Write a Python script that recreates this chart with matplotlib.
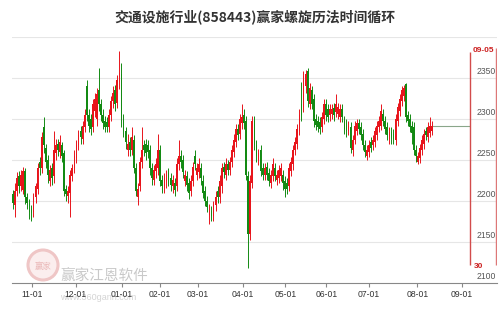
import matplotlib.pyplot as plt
from matplotlib.patches import Circle
import numpy as np

plt.rcParams['font.family'] = ['Liberation Sans', 'Noto Sans CJK SC', 'DejaVu Sans']

title = "交通设施行业(858443)赢家螺旋历法时间循环"

# daily candles, one per trading day
opens = [
    2208, 2195, 2212, 2230, 2218, 2214, 2236, 2205, 2198, 2190,
    2186, 2205, 2215, 2248, 2240, 2290, 2265, 2250, 2225, 2240,
    2230, 2258, 2270, 2260, 2268, 2258, 2215, 2206, 2210, 2230,
    2240, 2252, 2268, 2285, 2276, 2290, 2340, 2305, 2300, 2290,
    2310, 2300, 2335, 2318, 2305, 2298, 2296, 2290, 2305, 2322,
    2335, 2320, 2345, 2355, 2300, 2285, 2262, 2272, 2262, 2275,
    2240, 2205, 2218, 2248, 2268, 2270, 2268, 2262, 2240, 2226,
    2236, 2240, 2262, 2226, 2218, 2224, 2234, 2228, 2218, 2222,
    2218, 2245, 2255, 2250, 2225, 2230, 2222, 2212, 2225, 2255,
    2232, 2235, 2240, 2225, 2212, 2200, 2183, 2188, 2182, 2195,
    2212, 2205, 2218, 2242, 2232, 2245, 2238, 2248, 2260, 2272,
    2288, 2282, 2295, 2305, 2298, 2230, 2160, 2222, 2298, 2268,
    2250, 2262, 2240, 2232, 2242, 2234, 2222, 2230, 2240, 2226,
    2228, 2230, 2232, 2225, 2222, 2218, 2236, 2245, 2262, 2270,
    2285, 2318, 2315, 2340, 2358, 2318, 2335, 2325, 2300, 2298,
    2296, 2290, 2300, 2318, 2312, 2305, 2306, 2314, 2308, 2306,
    2302, 2312, 2298, 2295, 2285, 2290, 2262, 2275, 2285, 2295,
    2290, 2282, 2268, 2255, 2260, 2272, 2268, 2272, 2280, 2290,
    2292, 2306, 2298, 2290, 2276, 2284, 2282, 2275, 2298, 2310,
    2322, 2328, 2343, 2305, 2300, 2292, 2290, 2262, 2248, 2252,
    2262, 2270, 2285, 2278, 2283, 2285,
]
closes = [
    2198, 2212, 2228, 2218, 2232, 2236, 2205, 2198, 2186, 2185,
    2205, 2218, 2240, 2240, 2278, 2268, 2248, 2232, 2238, 2228,
    2262, 2268, 2262, 2272, 2255, 2212, 2208, 2212, 2232, 2240,
    2255, 2268, 2280, 2278, 2292, 2305, 2305, 2292, 2288, 2318,
    2325, 2330, 2318, 2305, 2295, 2290, 2290, 2305, 2322, 2332,
    2318, 2348, 2356, 2298, 2285, 2272, 2270, 2262, 2278, 2240,
    2212, 2215, 2248, 2262, 2262, 2258, 2260, 2240, 2228, 2238,
    2245, 2262, 2225, 2218, 2228, 2232, 2226, 2220, 2226, 2214,
    2245, 2255, 2248, 2235, 2232, 2220, 2210, 2225, 2242, 2245,
    2240, 2245, 2228, 2210, 2200, 2193, 2190, 2182, 2195, 2205,
    2205, 2225, 2240, 2235, 2245, 2238, 2248, 2262, 2275, 2288,
    2280, 2300, 2302, 2295, 2232, 2160, 2225, 2298, 2268, 2255,
    2258, 2236, 2232, 2240, 2232, 2224, 2232, 2245, 2230, 2232,
    2238, 2240, 2222, 2215, 2215, 2240, 2248, 2262, 2272, 2288,
    2305, 2305, 2352, 2355, 2322, 2338, 2318, 2298, 2293, 2290,
    2288, 2302, 2318, 2305, 2302, 2312, 2312, 2305, 2318, 2315,
    2312, 2302, 2288, 2285, 2292, 2265, 2275, 2292, 2295, 2288,
    2280, 2268, 2260, 2262, 2268, 2265, 2275, 2285, 2292, 2298,
    2310, 2298, 2288, 2280, 2284, 2276, 2276, 2300, 2315, 2325,
    2335, 2338, 2303, 2298, 2290, 2283, 2262, 2255, 2255, 2265,
    2275, 2282, 2280, 2290, 2292, 2292,
]
highs = [
    2214, 2222, 2235, 2236, 2238, 2242, 2240, 2210, 2202, 2195,
    2210, 2222, 2246, 2254, 2284, 2302, 2270, 2256, 2244, 2246,
    2285, 2276, 2276, 2280, 2272, 2262, 2220, 2218, 2238, 2245,
    2262, 2274, 2286, 2292, 2298, 2312, 2348, 2312, 2306, 2325,
    2332, 2338, 2362, 2324, 2312, 2304, 2302, 2312, 2328, 2340,
    2342, 2354, 2383, 2368, 2306, 2290, 2282, 2278, 2290, 2280,
    2246, 2222, 2254, 2290, 2274, 2276, 2274, 2268, 2246, 2244,
    2252, 2282, 2268, 2232, 2234, 2238, 2240, 2234, 2232, 2228,
    2252, 2275, 2262, 2256, 2238, 2236, 2228, 2232, 2248, 2262,
    2246, 2252, 2246, 2232, 2218, 2206, 2196, 2194, 2200, 2212,
    2218, 2232, 2246, 2248, 2252, 2250, 2254, 2268, 2282, 2294,
    2294, 2306, 2318, 2312, 2304, 2236, 2232, 2304, 2304, 2274,
    2264, 2268, 2246, 2246, 2248, 2240, 2238, 2252, 2246, 2238,
    2244, 2246, 2238, 2230, 2228, 2246, 2254, 2268, 2278, 2294,
    2312, 2345, 2358, 2360, 2362, 2344, 2340, 2330, 2306, 2304,
    2302, 2308, 2324, 2324, 2318, 2318, 2318, 2320, 2330, 2320,
    2318, 2318, 2304, 2300, 2298, 2296, 2280, 2298, 2300, 2300,
    2296, 2288, 2274, 2268, 2274, 2278, 2280, 2290, 2298, 2304,
    2318, 2312, 2304, 2296, 2290, 2290, 2288, 2306, 2320, 2330,
    2340, 2342, 2344, 2310, 2306, 2298, 2296, 2268, 2260, 2270,
    2280, 2288, 2290, 2296, 2302, 2298,
]
lows = [
    2190, 2180, 2206, 2210, 2212, 2208, 2196, 2190, 2178, 2176,
    2180, 2198, 2208, 2232, 2234, 2258, 2240, 2222, 2218, 2220,
    2222, 2250, 2255, 2252, 2248, 2206, 2200, 2198, 2180, 2224,
    2234, 2246, 2262, 2270, 2270, 2284, 2298, 2284, 2280, 2284,
    2302, 2292, 2310, 2298, 2288, 2284, 2284, 2284, 2298, 2314,
    2310, 2314, 2336, 2290, 2278, 2264, 2255, 2255, 2256, 2234,
    2206, 2195, 2212, 2240, 2255, 2250, 2252, 2232, 2220, 2220,
    2228, 2232, 2218, 2210, 2210, 2216, 2218, 2212, 2210, 2206,
    2212, 2238, 2240, 2228, 2218, 2212, 2202, 2206, 2218, 2238,
    2226, 2228, 2220, 2204, 2194, 2186, 2172, 2176, 2176, 2188,
    2198, 2198, 2210, 2228, 2226, 2232, 2232, 2242, 2254, 2266,
    2274, 2276, 2288, 2288, 2226, 2118, 2152, 2216, 2262, 2248,
    2244, 2230, 2226, 2226, 2226, 2218, 2216, 2224, 2224, 2220,
    2222, 2224, 2214, 2205, 2208, 2212, 2230, 2238, 2256, 2264,
    2280, 2298, 2308, 2332, 2315, 2312, 2312, 2290, 2286, 2284,
    2282, 2284, 2294, 2298, 2296, 2298, 2300, 2298, 2302, 2300,
    2296, 2296, 2282, 2278, 2280, 2258, 2255, 2270, 2280, 2282,
    2274, 2262, 2254, 2250, 2254, 2260, 2262, 2266, 2274, 2284,
    2286, 2292, 2282, 2274, 2270, 2270, 2270, 2268, 2292, 2304,
    2316, 2322, 2296, 2292, 2284, 2270, 2256, 2248, 2245, 2246,
    2256, 2264, 2274, 2272, 2278, 2280,
]

month_labels = ["11-01", "12-01", "01-01", "02-01", "03-01", "04-01",
                "05-01", "06-01", "07-01", "08-01", "09-01"]
month_pos = [9.3, 30.7, 53.2, 71.7, 90.2, 112.2, 133.2, 153.2, 174.1, 197.6, 219.5]
price_ticks = [2100, 2150, 2200, 2250, 2300, 2350]

cycle_pos = 223.4
cycle_label = "09-05"
cycle_days = "30"

UP = '#e8141b'
DOWN = '#138a13'
CYC = '#d24b4b'

o = np.array(opens)
c = np.array(closes)
h = np.array(highs)
l = np.array(lows)
x = np.arange(len(o))
col = np.where(c >= o, UP, DOWN)

fig = plt.figure(figsize=(4.99, 3.09), dpi=100)
ax = fig.add_axes([12 / 499, 26 / 309, 485 / 499, 246 / 309])
ax.set_facecolor('none')

# watermark, drawn under the axes
wm = Circle((43, 309 - 265), 15, transform=None, fill=True, facecolor='#fbeeee',
            edgecolor='#efc6c6', lw=2.2, zorder=-5)
fig.patches.append(wm)
fig.text(43 / 499, 1 - 266 / 309, "赢家", ha='center', va='center', fontsize=6,
         color='#eab8b8', family=['Noto Sans CJK SC'], zorder=-4)
fig.text(60 / 499, 1 - 277 / 309, "赢家江恩软件", ha='left', va='center', fontsize=10.5,
         color='#c9c9c9', family=['Noto Sans CJK SC'], zorder=-4)
fig.text(60 / 499, 1 - 297 / 309, "www.360gann.com", ha='left', va='center', fontsize=6.5,
         color='#d4d4d4', zorder=-4)

for v in [2150, 2200, 2250, 2300, 2350, 2400]:
    ax.axhline(v, color='#e6e6e6', lw=0.8, zorder=0)

ax.vlines(x, l, h, colors=col, lw=0.7, zorder=2)
body = np.maximum(np.abs(c - o), 1.0)
ax.bar(x, body, bottom=np.minimum(o, c), width=0.85, color=col, lw=0, zorder=3)

# last price guide line
ax.hlines(c[-1], x[-1], cycle_pos, colors='#8aa68a', lw=0.8, zorder=2)

# time cycle line
ax.vlines(cycle_pos, 2122, 2382, colors=CYC, lw=1.0, zorder=4)
ax.vlines(236.1, 2122, 2386, colors='#dd7777', lw=1.0, zorder=4)
ax.text(cycle_pos + 1.5, 2384, cycle_label, color='#cc2020', fontsize=6,
        fontweight='bold', ha='left', va='center')
ax.text(cycle_pos + 2.0, 2120, cycle_days, color='#cc2020', fontsize=6,
        fontweight='bold', ha='left', va='center')

for v in price_ticks:
    ax.text(0.9985, v + 2, str(v), transform=ax.get_yaxis_transform(),
            ha='right', va='bottom', fontsize=6.2, color='#555555')

ax.set_xlim(-0.5, 236.6)
ax.set_ylim(2100, 2400)
for s in ['top', 'left', 'right']:
    ax.spines[s].set_visible(False)
ax.spines['bottom'].set_color('#888888')
ax.spines['bottom'].set_linewidth(0.8)
ax.set_yticks([])
ax.set_xticks(month_pos)
ax.set_xticklabels(month_labels)
ax.tick_params(axis='x', direction='out', length=3, width=0.8, color='#888888',
               labelsize=6.2, labelcolor='#333333', pad=2)

fig.text(255 / 499, 1 - 17 / 309, title, ha='center', va='center', fontsize=10,
         fontweight='bold', color='#333333', family=['Noto Sans CJK SC', 'DejaVu Sans'])

fig.savefig('out.png', dpi=100)
